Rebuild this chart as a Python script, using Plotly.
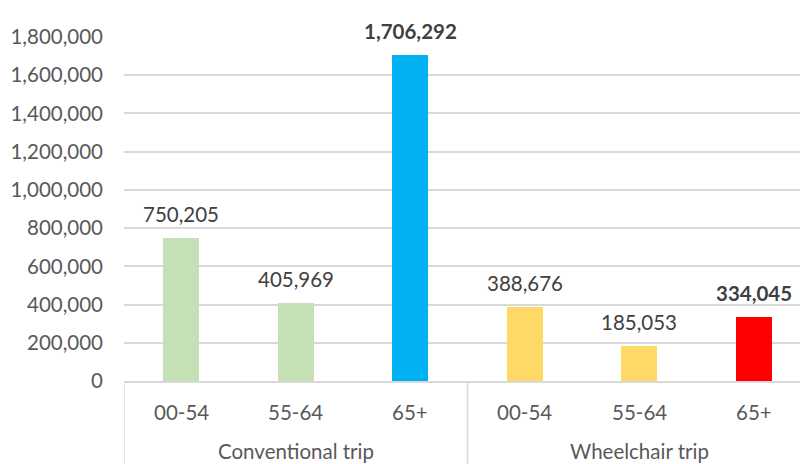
import plotly.graph_objects as go

groups = ["Conventional trip", "Conventional trip", "Conventional trip",
          "Wheelchair trip", "Wheelchair trip", "Wheelchair trip"]
ages = ["00-54", "55-64", "65+", "00-54", "55-64", "65+"]
trips = [750205, 405969, 1706292, 388676, 185053, 334045]
bar_colors = ["#C5E0B4", "#C5E0B4", "#00B0F0", "#FFD966", "#FFD966", "#FF0000"]
y_ticks = [0, 200000, 400000, 600000, 800000, 1000000, 1200000, 1400000, 1600000, 1800000]

FONT = "Lato"
FS = 20.5
xs = list(range(len(trips)))

fig = go.Figure()
fig.add_trace(go.Bar(x=xs, y=trips, marker=dict(color=bar_colors, line=dict(width=0)),
                     width=0.314, hoverinfo="skip"))

annotations = []
for i, (v, a) in enumerate(zip(trips, ages)):
    bold = a == "65+"
    txt = f"{v:,}"
    if bold:
        txt = f"<b>{txt}</b>"
    annotations.append(dict(x=i, y=v, xref="x", yref="y", text=txt, showarrow=False,
                            yanchor="middle", yshift=24,
                            font=dict(family=FONT, size=FS, color="#404040")))
    annotations.append(dict(x=i, y=0, xref="x", yref="paper", text=a, showarrow=False,
                            yanchor="middle", yshift=-31,
                            font=dict(family=FONT, size=FS, color="#595959")))

# group labels, centered under each group
seen = []
for g in groups:
    if g not in seen:
        seen.append(g)
for g in seen:
    idx = [i for i, gg in enumerate(groups) if gg == g]
    cx = sum(idx) / len(idx)
    annotations.append(dict(x=cx, y=0, xref="x", yref="paper", text=g, showarrow=False,
                            yanchor="middle", yshift=-70,
                            font=dict(family=FONT, size=FS, color="#595959")))

shapes = []
# separators of the category axis
bounds = [-0.5]
for i in range(1, len(groups)):
    if groups[i] != groups[i - 1]:
        bounds.append(i - 0.5)
for b in bounds:
    shapes.append(dict(type="line", xref="x", yref="paper", x0=b, x1=b, y0=0, y1=-0.3,
                       line=dict(color="#D9D9D9", width=1.5)))

fig.update_layout(
    width=800, height=464,
    margin=dict(l=124, r=0, t=37, b=83),
    paper_bgcolor="white", plot_bgcolor="white",
    showlegend=False,
    bargap=0,
    xaxis=dict(range=[-0.5, 5.404], showgrid=False, zeroline=False, showticklabels=False,
               showline=True, linecolor="#D9D9D9", linewidth=1.5, ticks="", fixedrange=True),
    yaxis=dict(range=[0, 1800000], tickvals=y_ticks, tickformat=",d",
               showgrid=True, gridcolor="#D9D9D9", gridwidth=1.5, zeroline=False,
               showline=False, ticks="", ticklabelstandoff=20,
               tickfont=dict(family=FONT, size=FS, color="#595959")),
    annotations=annotations,
    shapes=shapes,
)

fig.write_html("out.html")
